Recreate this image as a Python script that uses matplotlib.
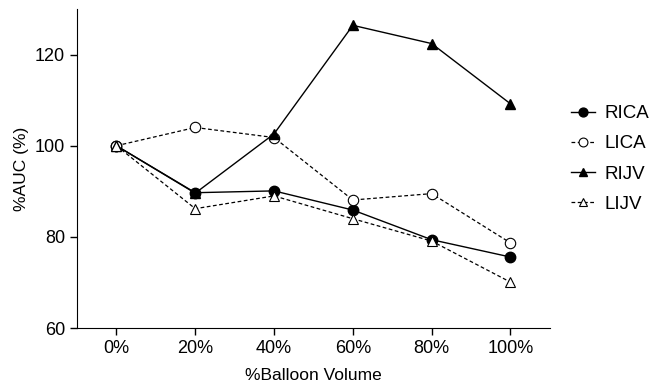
import matplotlib.pyplot as plt

plt.rcParams['font.family'] = ['Liberation Sans', 'DejaVu Sans']

volume = [0, 20, 40, 60, 80, 100]
x_labels = ["0%", "20%", "40%", "60%", "80%", "100%"]

rica = [100, 89.7, 90.1, 85.9, 79.4, 75.6]
lica = [100, 104.0, 101.8, 88.1, 89.5, 78.7]
rijv = [100, 89.6, 102.6, 126.4, 122.4, 109.2]
lijv = [100, 86.2, 89.0, 84.0, 79.1, 70.1]

fig = plt.figure(figsize=(6.53, 3.87), dpi=100)
ax = fig.add_axes([0.118, 0.152, 0.724, 0.825])

ax.plot(volume, rica, "-", color="black", lw=1, marker="o", ms=7.5, mfc="black", label="RICA")
ax.plot(volume, lica, "--", color="black", lw=0.9, marker="o", ms=7.5, mfc="white", mew=0.8,
        dashes=(3, 2), label="LICA")
ax.plot(volume, rijv, "-", color="black", lw=1, marker="^", ms=7.5, mfc="black", label="RIJV")
ax.plot(volume, lijv, "--", color="black", lw=0.9, marker="^", ms=7.5, mfc="white", mew=0.8,
        dashes=(3, 2), label="LIJV")

ax.set_xlim(-10, 110)
ax.set_ylim(60, 130)
ax.set_xticks(volume)
ax.set_xticklabels(x_labels)
ax.set_yticks([60, 80, 100, 120])
ax.tick_params(labelsize=13, length=5, width=1, direction="out")
ax.spines["top"].set_visible(False)
ax.spines["right"].set_visible(False)

ax.set_xlabel("%Balloon Volume", fontsize=12.5, labelpad=8)
ax.set_ylabel("%AUC (%)", fontsize=12.5, labelpad=4)

ax.legend(loc="center left", bbox_to_anchor=(1.028, 0.53), borderaxespad=0, frameon=False,
          fontsize=13.5, handlelength=1.3, handletextpad=0.5, labelspacing=0.7,
          markerscale=0.85)

fig.savefig("out.png", dpi=100)
